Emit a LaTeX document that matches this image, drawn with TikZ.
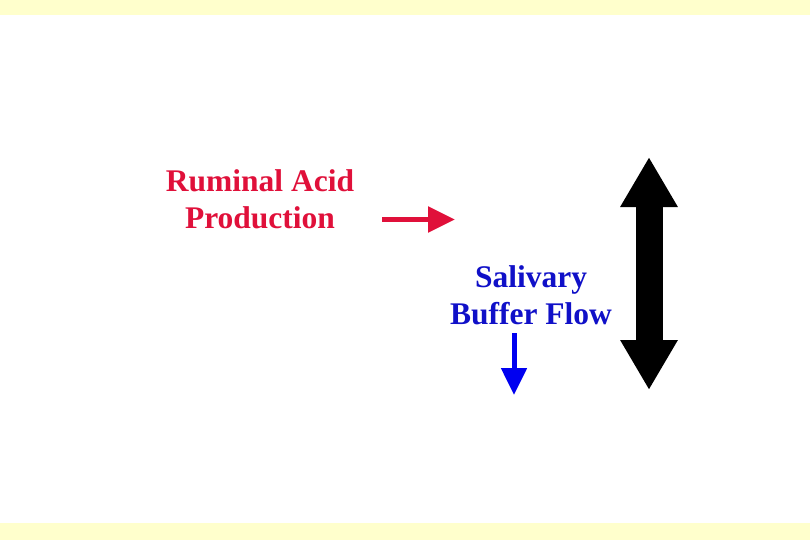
\documentclass[tikz,border=0pt]{standalone}
\usepackage{fontspec}
\setmainfont{Liberation Serif}
\usetikzlibrary{arrows.meta}

\definecolor{acidred}{HTML}{E0103A}
\definecolor{bufferblue}{HTML}{1010C8}
\definecolor{arrowblue}{HTML}{0000F0}
\definecolor{paleyellow}{HTML}{FFFFCC}

\begin{document}
\begin{tikzpicture}[
    x=1pt, y=-1pt,
    label/.style={align=center, inner sep=0pt,
        font=\fontsize{31.5}{37}\selectfont\bfseries},
    band/.style={fill=paleyellow, draw=none},
    thin arrow/.style={line width=5.5pt, -{Triangle[length=27pt,width=25pt]}},
    big arrow/.style={line width=27pt,
        {Triangle[length=50pt,width=54pt]}-{Triangle[length=50pt,width=54pt]}}
]
\useasboundingbox (0,0) rectangle (810,540);
\fill[white] (0,0) rectangle (810,540);
\fill[band] (0,0) rectangle (810,15);
\fill[band] (0,523) rectangle (810,540);

% text
\node (acid) [label, text=acidred] at (260,199) {Ruminal Acid\\Production};
\node (saliva) [label, text=bufferblue] at (531,295) {Salivary\\Buffer Flow};

% arrows
\coordinate (acidtail) at (382,219.5);
\coordinate (acidtip) at (455,219.5);
\coordinate (salivatail) at (514,333);
\coordinate (salivatip) at (514,395);
\coordinate (balancetop) at (649,157);
\coordinate (balancebottom) at (649,390);

\draw[thin arrow, acidred] (acidtail) -- (acidtip);
\draw[thin arrow, arrowblue, line width=5pt] (salivatail) -- (salivatip);
\draw[big arrow, black] (balancetop) -- (balancebottom);
\end{tikzpicture}
\end{document}
